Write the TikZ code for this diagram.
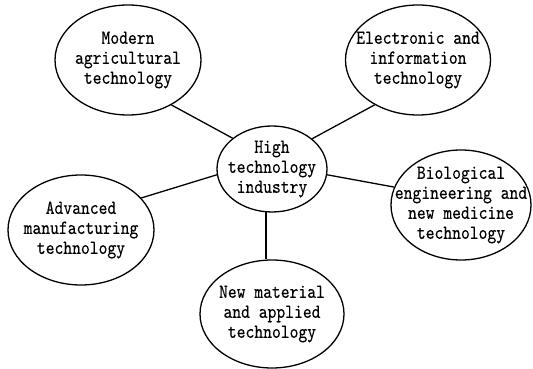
\documentclass[tikz,border=0pt]{standalone}
\usepackage{fontspec}
\newfontfamily\dfont{lmmono10-regular.otf}[FakeStretch=0.84, FakeBold=0.3]
\usetikzlibrary{shapes.geometric}
\tikzset{
  bubble/.style={draw, line width=1.3pt, ellipse, inner sep=-30pt, align=center,
    font=\dfont\fontsize{20}{20}\selectfont},
  link/.style={line width=1.3pt}
}
\begin{document}
\begin{tikzpicture}[x=1pt,y=1pt]
\useasboundingbox (0,0) rectangle (533,369);
\node[bubble, minimum width=146pt, minimum height=110pt] (agri) at (128,309) {Modern\\agricultural\\technology};
\node[bubble, minimum width=145pt, minimum height=110pt] (elec) at (418,309) {Electronic and\\information\\technology};
\node[bubble, minimum width=110pt, minimum height=86pt] (high) at (272,200) {High\\technology\\industry};
\node[bubble, minimum width=140pt, minimum height=110pt] (bio) at (461,164) {Biological\\engineering and\\new medicine\\technology};
\node[bubble, minimum width=146pt, minimum height=110pt] (adv) at (81,139) {Advanced\\manufacturing\\technology};
\node[bubble, minimum width=144pt, minimum height=108pt] (newm) at (272,55) {New material\\and applied\\technology};
\draw[link] (agri.314) -- (high.142);
\draw[link] (elec.226) -- (high.37);
\draw[link] (high.354) -- (bio.165);
\draw[link] (high.186) -- (adv.28);
\draw[link] (high.262) -- (high.262 |- newm.north);
\end{tikzpicture}
\end{document}
